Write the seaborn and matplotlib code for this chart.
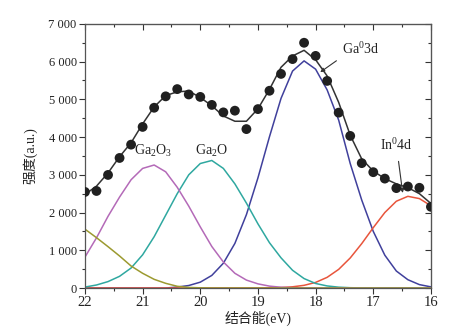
import numpy as np
import pandas as pd
import matplotlib
matplotlib.use("Agg")
import matplotlib.pyplot as plt
from matplotlib.ticker import MultipleLocator, FixedLocator
import seaborn as sns

# ---------------- data ----------------
energy = [22.0, 21.8, 21.6, 21.4, 21.2, 21.0, 20.8, 20.6, 20.4, 20.2, 20.0,
          19.8, 19.6, 19.4, 19.2, 19.0, 18.8, 18.6, 18.4, 18.2, 18.0,
          17.8, 17.6, 17.4, 17.2, 17.0, 16.8, 16.6, 16.4, 16.2, 16.0]

measured = [2546, 2572, 2997, 3447, 3800, 4270, 4778, 5080, 5272, 5130, 5065,
            4853, 4655, 4700, 4212, 4742, 5228, 5675, 6068, 6500, 6152,
            5489, 4648, 4031, 3310, 3070, 2900, 2648, 2690, 2656, 2152]

fit_total = [2480, 2700, 3050, 3480, 3850, 4350, 4800, 5100, 5200, 5220, 5050,
             4830, 4560, 4420, 4420, 4750, 5265, 5850, 6150, 6300, 6050,
             5620, 4920, 4050, 3420, 3100, 2900, 2760, 2660, 2500, 2240]

ga2o3 = [820, 1330, 1900, 2410, 2870, 3170, 3260, 3080, 2670, 2170, 1620,
         1100, 690, 390, 210, 110, 50, 20, 8, 3, 0,
         0, 0, 0, 0, 0, 0, 0, 0, 0, 0]

ga2o = [25, 80, 170, 310, 530, 880, 1360, 1930, 2500, 3000, 3300,
        3380, 3170, 2760, 2250, 1700, 1200, 800, 470, 250, 120,
        55, 22, 8, 3, 0, 0, 0, 0, 0, 0]

ga_3d = [0, 0, 0, 0, 0, 0, 0, 0, 25, 66, 155,
         334, 657, 1182, 1945, 2920, 4010, 5025, 5750, 6020, 5800,
         5250, 4450, 3300, 2330, 1500, 870, 450, 220, 90, 30]

in_4d = [0, 0, 0, 0, 0, 0, 0, 0, 0, 0, 0,
         0, 0, 0, 0, 0, 5, 13, 32, 71, 148,
         283, 494, 796, 1177, 1600, 2000, 2300, 2430, 2370, 2180]

low_tail = [1560, 1334, 1096, 849, 583, 390, 230, 124, 46, 15, 5,
            0, 0, 0, 0, 0, 0, 0, 0, 0, 0,
            0, 0, 0, 0, 0, 0, 0, 0, 0, 0]

x_ticks = [22, 21, 20, 19, 18, 17, 16]
x_tick_labels = ["22", "21", "20", "19", "18", "17", "16"]
y_ticks = [0, 1000, 2000, 3000, 4000, 5000, 6000, 7000]
y_tick_labels = ["0", "1 000", "2 000", "3 000", "4 000", "5 000", "6 000", "7 000"]

df = pd.DataFrame({"energy": energy, "measured": measured, "fit": fit_total,
                   "ga2o3": ga2o3, "ga2o": ga2o, "ga3d": ga_3d,
                   "in4d": in_4d, "tail": low_tail})

# ---------------- style ----------------
sns.set_style("ticks")
plt.rcParams["font.family"] = ["Liberation Serif", "Noto Sans CJK SC", "DejaVu Sans"]
plt.rcParams["mathtext.fontset"] = "custom"
plt.rcParams["mathtext.rm"] = "Liberation Serif"
plt.rcParams["mathtext.it"] = "Liberation Serif:italic"
plt.rcParams["axes.unicode_minus"] = False

fig = plt.figure(figsize=(4.72, 3.32), dpi=100)
ax = fig.add_axes([0.180, 0.1325, 0.733, 0.7955])

ink = "#333333"
comp_colors = {"ga3d": "#40409c", "ga2o": "#2fa8a0", "ga2o3": "#b46ab8",
               "in4d": "#e8553c", "tail": "#9c9a30"}

for key in ["ga3d", "in4d", "ga2o", "ga2o3", "tail"]:
    sns.lineplot(data=df, x="energy", y=key, ax=ax, color=comp_colors[key],
                 lw=1.1, zorder=2)

sns.lineplot(data=df, x="energy", y="fit", ax=ax, color=ink, lw=1.1, zorder=3)
sns.scatterplot(data=df, x="energy", y="measured", ax=ax, color="#202020",
                s=50, edgecolor="none", zorder=4)

ax.set_xlim(22, 16)
ax.set_ylim(0, 7000)
ax.xaxis.set_major_locator(FixedLocator(x_ticks))
ax.set_xticklabels(x_tick_labels, fontsize=10.5)
ax.xaxis.set_minor_locator(MultipleLocator(0.5))
ax.yaxis.set_major_locator(FixedLocator(y_ticks))
ax.set_yticklabels(y_tick_labels, fontsize=9)
ax.yaxis.set_minor_locator(MultipleLocator(500))

ax.tick_params(axis="both", which="major", direction="out", length=4,
               width=0.8, color=ink, labelcolor="#222222", pad=2)
ax.tick_params(axis="both", which="minor", direction="out", length=2.2,
               width=0.8, color=ink)

for sp in ax.spines.values():
    sp.set_visible(True)
    sp.set_color("#555555")
    sp.set_linewidth(0.9)

# mirrored inward ticks on top and right
top = ax.secondary_xaxis("top")
top.xaxis.set_major_locator(FixedLocator(x_ticks))
top.xaxis.set_minor_locator(MultipleLocator(0.5))
top.tick_params(which="major", direction="in", length=4, width=0.8,
                color=ink, labeltop=False)
top.tick_params(which="minor", direction="in", length=2.2, width=0.8, color=ink)
top.spines["top"].set_color("#555555")

right = ax.secondary_yaxis("right")
right.yaxis.set_major_locator(FixedLocator(y_ticks))
right.yaxis.set_minor_locator(MultipleLocator(500))
right.tick_params(which="major", direction="in", length=4, width=0.8,
                  color=ink, labelright=False)
right.tick_params(which="minor", direction="in", length=2.2, width=0.8, color=ink)
right.spines["right"].set_color("#555555")

ax.set_xlabel("结合能(eV)", fontsize=10, color="#222222", labelpad=1)
ax.set_ylabel("强度(a.u.)", fontsize=10, color="#222222", labelpad=8)

# peak labels
ax.text(20.82, 3630, "Ga$_2$O$_3$", fontsize=10, ha="center", va="center",
        color="#222222")
ax.text(19.80, 3630, "Ga$_2$O", fontsize=10, ha="center", va="center",
        color="#222222")
ax.annotate("Ga$^0$3d", xy=(17.92, 5720), xytext=(17.22, 6330), fontsize=10,
            ha="center", va="center", color="#222222",
            arrowprops=dict(arrowstyle="-|>", color=ink, lw=0.8,
                            mutation_scale=6, shrinkA=2, shrinkB=0,
                            relpos=(0.05, 0.1)))
ax.annotate("In$^0$4d", xy=(16.49, 2520), xytext=(16.60, 3800), fontsize=10,
            ha="center", va="center", color="#222222",
            arrowprops=dict(arrowstyle="-|>", color=ink, lw=0.8,
                            mutation_scale=6, shrinkA=4, shrinkB=0))

fig.savefig("out.png", dpi=100, facecolor="white")
